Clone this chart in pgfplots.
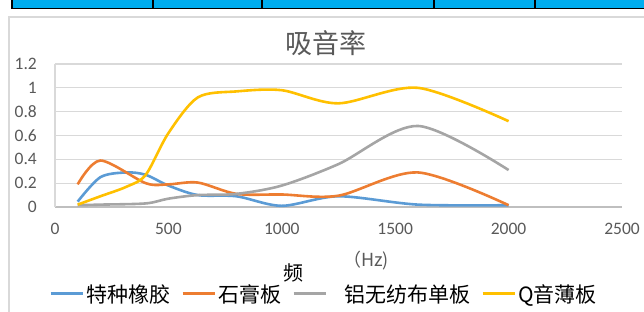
\documentclass[border=0pt]{standalone}
\usepackage{fontspec}
\setmainfont{Carlito}
\newfontfamily\cjk{Noto Sans CJK SC}
\usepackage{pgfplots}
\pgfplotsset{compat=1.18}
\definecolor{cblue}{HTML}{5B9BD5}
\definecolor{corange}{HTML}{ED7D31}
\definecolor{cgray}{HTML}{A5A5A5}
\definecolor{cyellow}{HTML}{FFC000}
\definecolor{gridc}{HTML}{D9D9D9}
\definecolor{tickc}{HTML}{595959}
\definecolor{axc}{HTML}{BFBFBF}
\begin{document}
\begin{tikzpicture}[x=1pt,y=1pt]
\useasboundingbox (0,0) rectangle (644,311);
% table strip at top
\fill[cyan] (12,302.5) rectangle (650,311);
\draw[black,line width=1.6pt] (12,312) -- (12,302.5) -- (650,302.5);
\foreach \xx in {153,262,434,535} {\draw[black,line width=1.3pt] (\xx,303) -- (\xx,312);}
% chart frame
\draw[gridc,line width=1.6pt] (9,-10) -- (9,294) -- (660,294);
\begin{axis}[
  at={(55pt,104pt)}, anchor=south west,
  scale only axis, width=567pt, height=143pt,
  xmin=0, xmax=2500, ymin=0, ymax=1.2,
  xtick={0,500,...,2500}, ytick={0,0.2,...,1.2},
  scaled ticks=false,
  /pgf/number format/1000 sep={},
  /pgf/number format/assume math mode=true,
  major tick length=0pt,
  axis x line*=bottom, axis y line*=left,
  x axis line style={draw=axc, line width=1.1pt, -},
  y axis line style={draw=gridc, line width=1.1pt, -},
  ymajorgrids, grid style={draw=gridc, line width=1.1pt},
  ticklabel style={font=\fontsize{17.5}{20}\selectfont, text=tickc, inner sep=0pt},
  yticklabel style={xshift=-18pt},
  xticklabel style={yshift=-16pt},
  legend columns=4,
  legend image code/.code={\draw[#1, line width=3pt] (0pt,0pt) -- (32pt,0pt);},
  legend style={at={(axis description cs:-0.0106,-0.608)}, anchor=west,
    draw=none, fill=none, inner sep=0pt,
    font=\cjk\fontsize{21}{24}\selectfont,
    nodes={inner xsep=2pt, inner ysep=0pt},
    /tikz/every even column/.append style={column sep=9pt}},
]
\addplot[cblue, line width=2.6pt, smooth] coordinates {
(100,0.045) (200,0.25) (315,0.29) (400,0.27) (500,0.18) (630,0.1) (800,0.09) (1000,0.01) (1250,0.09) (1600,0.02) (2000,0.015)};
\addlegendentry{特种橡胶}
\addplot[corange, line width=2.6pt, smooth] coordinates {
(100,0.19) (200,0.39) (400,0.2) (500,0.19) (630,0.205) (800,0.11) (1000,0.105) (1250,0.095) (1600,0.29) (2000,0.015)};
\addlegendentry{石膏板}
\addplot[cgray, line width=2.6pt, smooth] coordinates {
(100,0.015) (200,0.02) (400,0.03) (500,0.07) (630,0.1) (800,0.11) (1000,0.18) (1250,0.36) (1600,0.68) (2000,0.31)};
\addlegendentry{\hspace{15pt}铝无纺布单板}
\addplot[cyellow, line width=2.6pt, smooth] coordinates {
(100,0.02) (200,0.09) (315,0.17) (400,0.27) (500,0.62) (630,0.92) (800,0.97) (1000,0.98) (1250,0.87) (1600,1.0) (2000,0.72)};
\addlegendentry{Q音薄板}
\end{axis}
\node[font=\cjk\fontsize{27}{30}\selectfont, text=tickc] at (326,268) {吸音率};
\node[font=\cjk\fontsize{18}{20}\selectfont, text=tickc] at (366,50) {（Hz)};
\node[font=\cjk\fontsize{20}{22}\selectfont] at (293,38) {频};
\end{tikzpicture}
\end{document}
